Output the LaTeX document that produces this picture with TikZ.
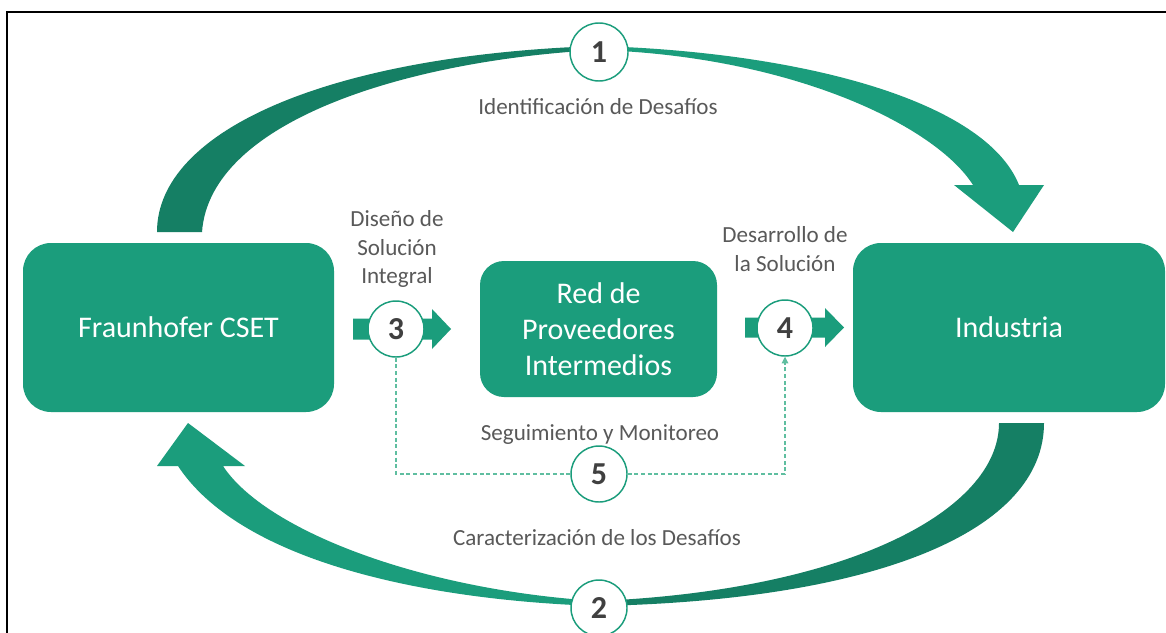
\documentclass[tikz,border=0pt]{standalone}
\usepackage{fontspec}
\setmainfont{Carlito}
\usetikzlibrary{arrows.meta}
\definecolor{teallight}{RGB}{27,157,124}
\definecolor{tealdark}{RGB}{21,127,100}
\definecolor{dashteal}{RGB}{95,190,160}
\definecolor{txtgray}{RGB}{89,89,89}
\definecolor{numgray}{RGB}{64,64,64}
\begin{document}
\begin{tikzpicture}[x=0.75pt,y=-0.75pt,
  box/.style={fill=teallight, rounded corners=21pt, text=white, font=\fontsize{22.5}{27}\selectfont, align=center, inner sep=0pt},
  num/.style={circle, draw=teallight, line width=1.1pt, fill=white, minimum size=42pt, inner sep=0pt, font=\fontsize{24}{24}\selectfont\bfseries, text=numgray},
  lbl/.style={text=txtgray, font=\fontsize{17.3}{21.4}\selectfont, align=center, inner sep=0pt},
  dashline/.style={draw=dashteal, line width=0.8pt, dash pattern=on 3pt off 2pt},
  blockarrow/.style={fill=teallight}]
\useasboundingbox (0,0) rectangle (1166,632);
\fill[white] (0,0) rectangle (1166,632);
% frame
\draw[line width=1.5pt] (7,645) -- (7,12) -- (1180,12);

% top curved arrow (1)
\fill[tealdark] (157,232) .. controls (157,130) and (330,55) .. (598,46) -- (598,50) .. controls (410,60) and (210,120) .. (202,232) -- cycle;
\fill[teallight] (598,46) .. controls (800,52) and (985,100) .. (1019,185) -- (1044,185) -- (1013,232) -- (954,185) -- (973,185) .. controls (935,125) and (790,56) .. (598,50) -- cycle;

% bottom curved arrow (2)
\fill[tealdark] (1044,423) .. controls (1044,530) and (880,600) .. (598,606) -- (598,601) .. controls (850,590) and (999,510) .. (999,423) -- cycle;
\fill[teallight] (598,606) .. controls (420,600) and (240,560) .. (178,466) -- (157,466) -- (188,423) -- (245,466) -- (223,466) .. controls (265,530) and (420,590) .. (598,601) -- cycle;

% boxes
\node[box, minimum width=233.25pt, minimum height=126.75pt] (fh) at (178.5,327.5) {Fraunhofer CSET};
\node[box, minimum width=234pt, minimum height=126.75pt] (ind) at (1009,327.5) {Industria};
\node[box, minimum width=177.75pt, minimum height=102pt, rounded corners=18pt] (red) at (598.5,329) {Red de\\Proveedores\\Intermedios};

% block arrows 3 and 4
\fill[blockarrow] (353,318.5) -- (432,318.5) -- (432,309) -- (451,329) -- (432,349) -- (432,339.5) -- (353,339.5) -- cycle;
\fill[blockarrow] (745,317.5) -- (825,317.5) -- (825,308) -- (844,327.5) -- (825,347) -- (825,337.5) -- (745,337.5) -- cycle;

% number circles
\node[num, minimum size=43.5pt] (n1) at (599,52) {1};
\node[num] (n2) at (599,608) {2};
\node[num] (n3) at (396,329) {3};
\node[num] (n4) at (785,328) {4};
\node[num] (n5) at (599,474) {5};

% dashed monitoring connectors
\draw[dashline] (n3.south) |- (n5.west);
\draw[dashline, -{Triangle[length=5pt,width=5pt]}] (n5.east) -| (n4.south);

% labels
\node[lbl] (l1) at (598,107) {Identificación de Desafíos};
\node[lbl] (l2) at (597,538) {Caracterización de los Desafíos};
\node[lbl] (l3) at (397,249) {Diseño de\\Solución\\Integral};
\node[lbl] (l4) at (785,249) {Desarrollo de\\la Solución};
\node[lbl] (l5) at (600,435) {Seguimiento y Monitoreo};
\end{tikzpicture}
\end{document}
